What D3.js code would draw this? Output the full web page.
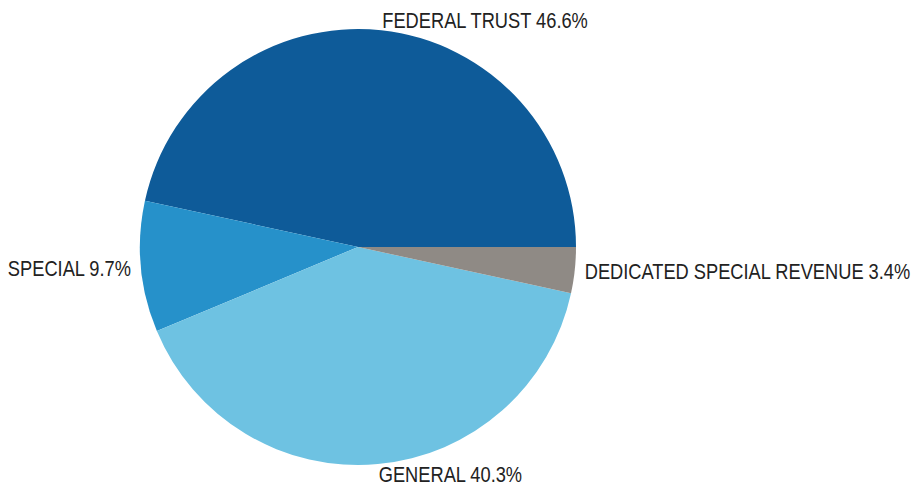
<!DOCTYPE html>
<html>
<head>
<meta charset="utf-8">
<script src="https://cdn.jsdelivr.net/npm/d3@7"></script>
<style>
  html, body { margin: 0; padding: 0; background: #fff; }
  svg text { font-family: "Liberation Sans", Arial, sans-serif; }
</style>
</head>
<body>
<svg id="chart" width="913" height="487"></svg>
<script>
// Fund shares (percent), listed counter-clockwise from 3 o'clock
const funds = ["FEDERAL TRUST", "SPECIAL", "GENERAL", "DEDICATED SPECIAL REVENUE"];
const shares = [46.6, 9.7, 40.3, 3.4];
const fundColors = ["#0e5b99", "#2691ca", "#6ec2e2", "#8f8a85"];

const width = 913, height = 487;
const cx = 358, cy = 247, radius = 218;
// labels are set in a condensed face: squeeze the regular sans horizontally
const condense = 0.83;

const svg = d3.select("#chart");
const g = svg.append("g").attr("transform", `translate(${cx},${cy})`);

const data = funds.map((name, i) => ({ name, value: shares[i], color: fundColors[i] }));

// Start at 3 o'clock and sweep counter-clockwise
const pie = d3.pie()
  .value(d => d.value)
  .sort(null)
  .startAngle(Math.PI / 2)
  .endAngle(Math.PI / 2 - 2 * Math.PI);

const arc = d3.arc().innerRadius(0).outerRadius(radius);
const labelArc = d3.arc().innerRadius(radius + 10).outerRadius(radius + 10);

const arcs = pie(data);

g.selectAll("path.slice")
  .data(arcs)
  .join("path")
  .attr("class", "slice")
  .attr("d", arc)
  .attr("fill", d => d.data.color);

g.selectAll("text.label")
  .data(arcs)
  .join("text")
  .attr("class", "label")
  .each(function(d) {
    const [x, y] = labelArc.centroid(d);
    d3.select(this)
      .attr("transform", `translate(${x},${y}) scale(${condense},1)`)
      .attr("dy", "0.36em")
      .attr("text-anchor", x >= 0 ? "start" : "end");
  })
  .attr("font-size", 22)
  .attr("fill", "#222")
  .text(d => `${d.data.name} ${d.data.value.toFixed(1)}%`);
</script>
</body>
</html>
